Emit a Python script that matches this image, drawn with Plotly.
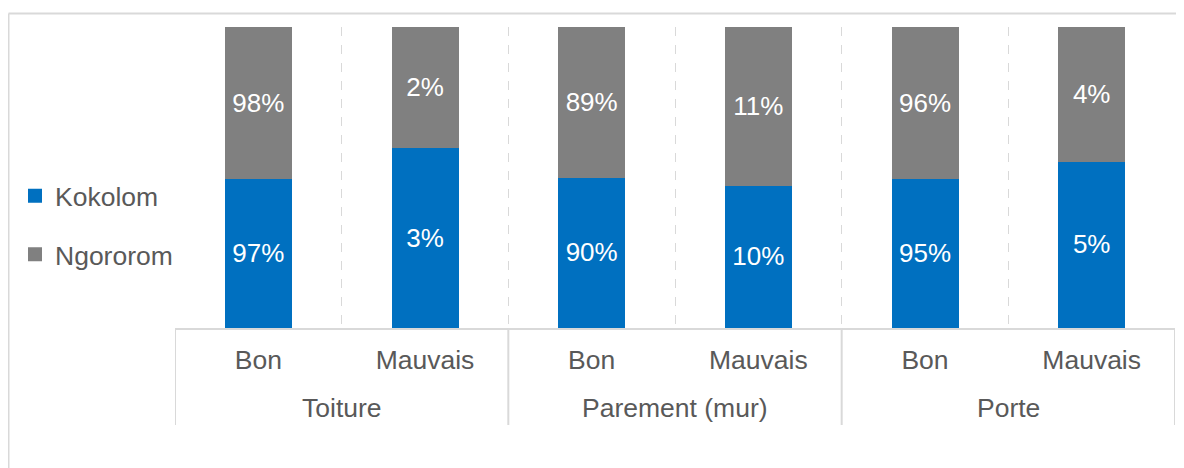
import plotly.graph_objects as go

groups = ["Toiture", "Toiture", "Parement (mur)", "Parement (mur)", "Porte", "Porte"]
states = ["Bon", "Mauvais", "Bon", "Mauvais", "Bon", "Mauvais"]
kokolom = [97, 3, 90, 10, 95, 5]
ngororom = [98, 2, 89, 11, 96, 4]

# page is offset by the browser's 8px body margin
OFF = 8
W, H = 1176, 460
L, R, T, B = 167, 9, 19, 140
pw, ph = W - L - R, H - T - B

def px_x(x):  # page pixel -> paper
    return (x - OFF - L) / pw

def px_y(y):  # page pixel -> paper
    return (H - B - (y - OFF)) / ph

text_col = "#595959"
font_family = "Liberation Sans, Arial, sans-serif"
FS = 26.5
BLUE, GREY = "#0070C0", "#808080"

keys = [f"{g} / {s}" for g, s in zip(groups, states)]

fig = go.Figure()
fig.add_trace(go.Bar(
    x=keys, y=kokolom, name="Kokolom", legendgroup="k",
    marker=dict(color=BLUE, line=dict(width=2, color=BLUE)),
    text=[f"{v}%" for v in kokolom], textposition="inside",
    insidetextanchor="middle", textangle=0,
    textfont=dict(color="white", size=26, family=font_family),
    width=0.39,
))
fig.add_trace(go.Bar(
    x=keys, y=ngororom, name="Ngororom", legendgroup="n",
    marker=dict(color=GREY, line=dict(width=2, color=GREY)),
    text=[f"{v}%" for v in ngororom], textposition="inside",
    insidetextanchor="middle", textangle=0,
    textfont=dict(color="white", size=26, family=font_family),
    width=0.39,
))

# group labels and dividers placed on the category axis
annotations = []
shapes = []
uniq = []
for g in groups:
    if g not in uniq:
        uniq.append(g)
shapes.append(dict(type="line", xref="x", yref="paper", x0=-0.5, x1=-0.5,
                   y0=0, y1=px_y(425), line=dict(color="#d9d9d9", width=2)))
for g in uniq:
    idx = [i for i, gg in enumerate(groups) if gg == g]
    c = sum(idx) / len(idx)
    annotations.append(dict(x=c, y=px_y(408), xref="x", yref="paper", text=g,
                            showarrow=False, xanchor="center", yanchor="middle",
                            font=dict(size=FS, color=text_col, family=font_family)))
    e = max(idx) + 0.5
    shapes.append(dict(type="line", xref="x", yref="paper", x0=e, x1=e,
                       y0=0, y1=px_y(425), line=dict(color="#d9d9d9", width=2)))

# chart frame
shapes += [
    dict(type="line", xref="paper", yref="paper",
         x0=px_x(8.5), x1=px_x(1300), y0=px_y(13.5), y1=px_y(13.5),
         line=dict(color="#d9d9d9", width=2)),
    dict(type="line", xref="paper", yref="paper",
         x0=px_x(8.5), x1=px_x(8.5), y0=px_y(13.5), y1=px_y(600),
         line=dict(color="#d9d9d9", width=2)),
]

fig.update_layout(
    width=W, height=H,
    barmode="stack", barnorm="percent",
    margin=dict(l=L, r=R, t=T, b=B, pad=0, autoexpand=False),
    paper_bgcolor="white", plot_bgcolor="white",
    font=dict(family=font_family, size=FS, color=text_col),
    showlegend=True,
    legend=dict(
        x=px_x(15), xanchor="left", y=px_y(225), yanchor="middle",
        traceorder="grouped", tracegroupgap=21,
        font=dict(size=FS, color=text_col, family=font_family),
        itemwidth=30, bgcolor="rgba(0,0,0,0)",
    ),
    xaxis=dict(
        type="category", tickmode="array", tickvals=keys, ticktext=states,
        tickson="boundaries",
        showgrid=True, gridcolor="#d9d9d9", griddash="dash", gridwidth=1,
        showline=True, linecolor="#d9d9d9", linewidth=2,
        ticks="", ticklabelstandoff=7,
        tickfont=dict(size=FS, color=text_col, family=font_family),
        zeroline=False, range=[-0.5, len(keys) - 0.5],
    ),
    yaxis=dict(range=[0, 100], visible=False, showgrid=False, zeroline=False),
    annotations=annotations,
    shapes=shapes,
)

fig.write_html("out.html")
